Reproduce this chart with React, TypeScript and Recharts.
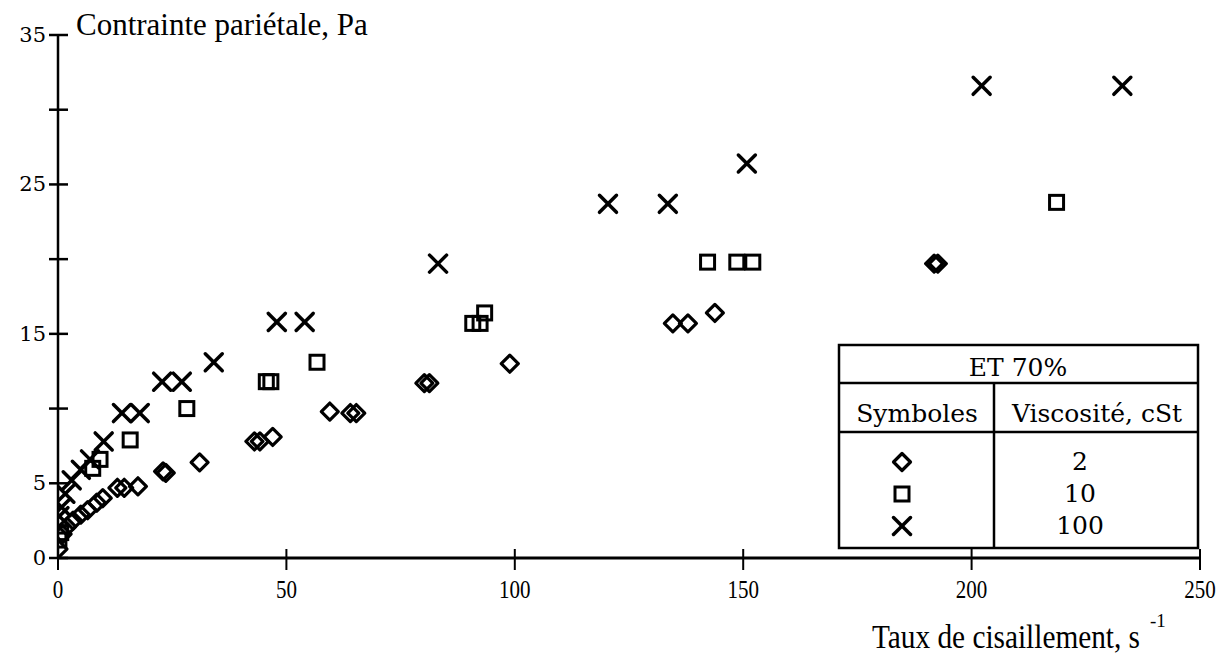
import React from 'react';
import { ScatterChart, Scatter, XAxis, YAxis } from 'recharts';

const xTicks = [0, 50, 100, 150, 200, 250];
const yTicks = [0, 5, 10, 15, 20, 25, 30, 35];
const yLabeled = [0, 5, 15, 25, 35];

const titleY = 'Contrainte pariétale, Pa';
const titleX = 'Taux de cisaillement, s';
const legendTitle = 'ET 70%';
const legendHeaders = ['Symboles', 'Viscosité, cSt'];
const legendValues = ['2', '10', '100'];

// Viscosité 2 cSt (diamonds)
const visc2: [number, number][] = [
  [0.1, 0.6], [1, 1.6], [2, 2.1], [3.3, 2.5], [5, 2.9], [6.5, 3.2], [8.5, 3.7], [9.8, 4.0],
  [13, 4.7], [14.5, 4.7], [17.5, 4.8], [23, 5.8], [23.6, 5.7], [31, 6.4], [43, 7.8],
  [44.2, 7.8], [47, 8.1], [59.5, 9.8], [64, 9.7], [65.3, 9.7], [80.2, 11.7], [81.3, 11.7],
  [98.9, 13.0], [134.6, 15.7], [137.9, 15.7], [143.8, 16.4], [191.8, 19.7], [192.6, 19.7],
];

// Viscosité 10 cSt (squares)
const visc10: [number, number][] = [
  [0.2, 1.2], [0.6, 1.7], [7.6, 6.0], [9.2, 6.6], [15.8, 7.9], [28.2, 10.0], [45.6, 11.8],
  [46.6, 11.8], [56.7, 13.1], [90.8, 15.7], [92.4, 15.7], [93.4, 16.4], [142.2, 19.8],
  [148.6, 19.8], [152.1, 19.8], [218.6, 23.8],
];

// Viscosité 100 cSt (crosses)
const visc100: [number, number][] = [
  [0.3, 2.8], [0.8, 3.4], [1.6, 4.3], [3, 5.2], [5, 5.9], [7, 6.6], [10, 7.8], [14, 9.7],
  [17.9, 9.7], [22.8, 11.8], [27.1, 11.8], [34.1, 13.1], [47.9, 15.8], [54, 15.8],
  [83.2, 19.7], [120.4, 23.7], [133.5, 23.7], [150.8, 26.4], [202.2, 31.6], [233, 31.6],
];

const toObj = (arr: [number, number][]) => arr.map(([x, y]) => ({ x, y }));

const FONT = '"Liberation Serif", "Times New Roman", serif';
const WIDE = '"DejaVu Serif", serif';

const Diamond = ({ cx, cy }: any) => (
  <path
    d={`M${cx},${cy - 8.5} L${cx + 8.5},${cy} L${cx},${cy + 8.5} L${cx - 8.5},${cy} Z`}
    fill="none" stroke="#000" strokeWidth={3.2} strokeLinejoin="round"
  />
);
const Square = ({ cx, cy }: any) => (
  <rect x={cx - 7} y={cy - 7} width={14} height={14} fill="none" stroke="#000" strokeWidth={3} />
);
const Cross = ({ cx, cy }: any) => (
  <g stroke="#000" strokeWidth={3.5} strokeLinecap="round">
    <line x1={cx - 8.5} y1={cy - 8.5} x2={cx + 8.5} y2={cy + 8.5} />
    <line x1={cx - 8.5} y1={cy + 8.5} x2={cx + 8.5} y2={cy - 8.5} />
  </g>
);

const YTick = (props: any) => {
  const { x, y, payload } = props;
  const v = payload.value;
  return (
    <g>
      <line x1={x - 9} y1={y} x2={x + 10} y2={y} stroke="#000" strokeWidth={2.5} />
      {yLabeled.includes(v) && (
        <text x={x - 12} y={y + 7} textAnchor="end" fontFamily={WIDE} fontSize={21} fill="#000">
          {v}
        </text>
      )}
    </g>
  );
};

const XTick = (props: any) => {
  const { x, y, payload } = props;
  const s = String(payload.value);
  return (
    <g>
      <line x1={x} y1={y - 9} x2={x} y2={y + 12} stroke="#000" strokeWidth={2} />
      <text
        x={x}
        y={y + 40}
        textAnchor="middle"
        fontFamily={FONT}
        fontSize={26}
        fill="#000"
        textLength={s.length * 10.5}
        lengthAdjust="spacingAndGlyphs"
      >
        {s}
      </text>
    </g>
  );
};

const legendShapes = [Diamond, Square, Cross];

export default function App() {
  return (
    <div style={{ position: 'absolute', left: 0, top: 0, width: 1222, height: 657, background: '#fff' }}>
      <ScatterChart
        width={1222}
        height={657}
        margin={{ top: 35, right: 22, left: 18, bottom: 69 }}
      >
        <XAxis
          type="number"
          dataKey="x"
          domain={[0, 250]}
          ticks={xTicks}
          height={30}
          tickLine={false}
          tickSize={0}
          tickMargin={0}
          axisLine={{ stroke: '#000', strokeWidth: 3 }}
          tick={<XTick />}
          allowDataOverflow
        />
        <YAxis
          type="number"
          dataKey="y"
          domain={[0, 35]}
          ticks={yTicks}
          width={40}
          tickLine={false}
          tickSize={0}
          tickMargin={0}
          axisLine={{ stroke: '#000', strokeWidth: 2.5 }}
          tick={<YTick />}
          allowDataOverflow
        />
        <Scatter data={toObj(visc2)} shape={<Diamond />} isAnimationActive={false} />
        <Scatter data={toObj(visc10)} shape={<Square />} isAnimationActive={false} />
        <Scatter data={toObj(visc100)} shape={<Cross />} isAnimationActive={false} />
      </ScatterChart>
      <svg
        width={1222}
        height={657}
        style={{ position: 'absolute', left: 0, top: 0, pointerEvents: 'none' }}
      >
        <text x={76} y={35} fontFamily={FONT} fontSize={31} fill="#000">{titleY}</text>
        <text x={1140} y={648} textAnchor="end" fontFamily={FONT} fontSize={33} fill="#000"
          textLength={268} lengthAdjust="spacingAndGlyphs">
          {titleX}
        </text>
        <text x={1150} y={627} fontFamily={FONT} fontSize={19} fill="#000">-1</text>
        {/* legend table */}
        <g fill="none" stroke="#000" strokeWidth={2.5}>
          <rect x={839} y={345} width={359} height={203} fill="#fff" />
          <line x1={839} y1={383} x2={1198} y2={383} />
          <line x1={839} y1={432} x2={1198} y2={432} />
          <line x1={994} y1={383} x2={994} y2={548} />
        </g>
        <g fontFamily={WIDE} fontSize={25} fill="#000" textAnchor="middle">
          <text x={1018} y={376}>{legendTitle}</text>
          <text x={917} y={422}>{legendHeaders[0]}</text>
          <text x={1097} y={422}>{legendHeaders[1]}</text>
          {legendValues.map((v, i) => (
            <text key={v} x={1080} y={470 + i * 32}>{v}</text>
          ))}
        </g>
        {legendShapes.map((S, i) => (
          <S key={i} cx={902} cy={462 + i * 32} />
        ))}
      </svg>
    </div>
  );
}
